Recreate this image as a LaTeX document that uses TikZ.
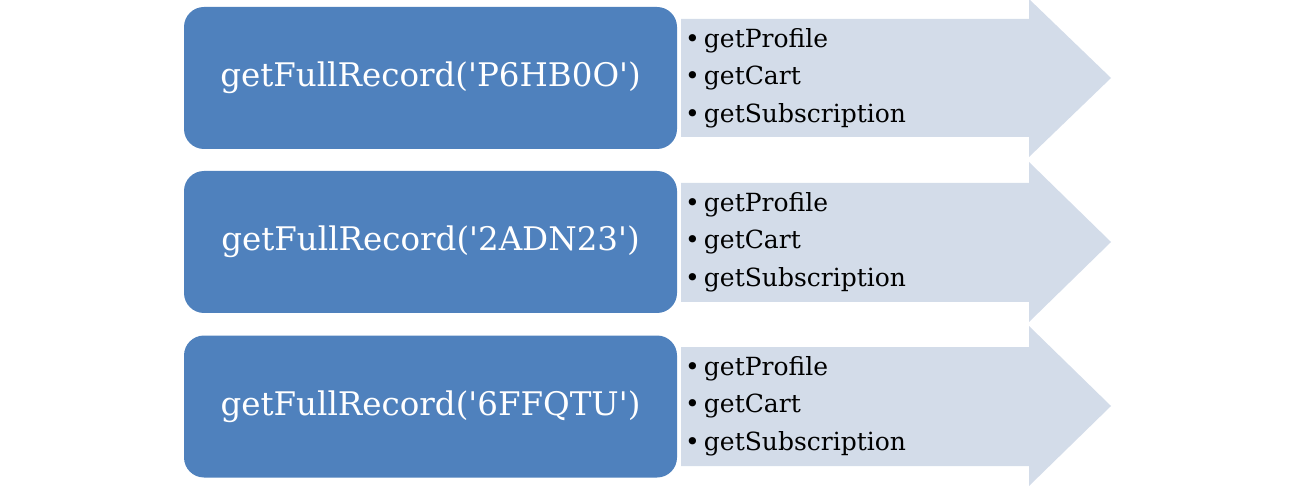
\documentclass[tikz,border=0pt]{standalone}
\usepackage{fontspec}
\setmainfont{DejaVu Serif}
\usepackage{tikz}

\definecolor{recblue}{HTML}{4F81BD}
\definecolor{callgrey}{HTML}{D3DCE9}

\tikzset{
	recbox/.style={fill=recblue,rounded corners=20pt,minimum width=493pt,minimum height=142pt,inner sep=0pt,text=white,font=\fontsize{32.5}{36}\selectfont},
	calllist/.style={anchor=west,align=left,inner sep=0pt,text=black,font=\fontsize{25}{37.5}\selectfont},
	callarrow/.style={fill=callgrey}
}
\newcommand{\q}{\textquotesingle}
\newcommand{\itm}{\textbullet\hspace{4pt}}

\begin{document}
\begin{tikzpicture}[x=1pt,y=-1pt]
	\useasboundingbox (0,0) rectangle (1293,486);

	% First record
	\fill[callarrow] (681,19) -- (1029,19) -- (1029,-1) -- (1111,78) -- (1029,157) -- (1029,137) -- (681,137) -- cycle;
	\node[recbox] (recA) at (430.5,78) {getFullRecord(\q P6HB0O\q)};
	\node[calllist] (callsA) at (685,78) {\itm getProfile\\ \itm getCart\\ \itm getSubscription};

	% Second record
	\fill[callarrow] (681,183) -- (1029,183) -- (1029,162) -- (1111,242) -- (1029,322) -- (1029,302) -- (681,302) -- cycle;
	\node[recbox] (recB) at (430.5,242) {getFullRecord(\q 2ADN23\q)};
	\node[calllist] (callsB) at (685,242) {\itm getProfile\\ \itm getCart\\ \itm getSubscription};

	% Third record
	\fill[callarrow] (681,347) -- (1029,347) -- (1029,326) -- (1111,406) -- (1029,486) -- (1029,466) -- (681,466) -- cycle;
	\node[recbox] (recC) at (430.5,406.5) {getFullRecord(\q 6FFQTU\q)};
	\node[calllist] (callsC) at (685,406) {\itm getProfile\\ \itm getCart\\ \itm getSubscription};
\end{tikzpicture}
\end{document}
